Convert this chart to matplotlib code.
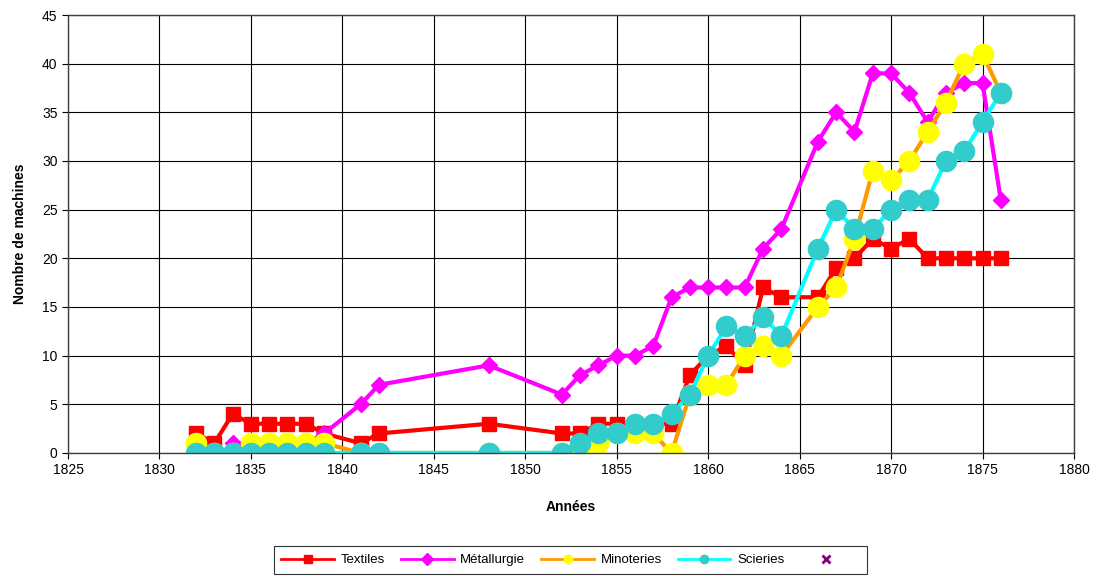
import numpy as np
import matplotlib
matplotlib.use("Agg")
from matplotlib import pyplot as plt

plt.rcParams['font.family'] = ['Liberation Sans', 'DejaVu Sans']

nan = np.nan
years = [1832, 1833, 1834, 1835, 1836, 1837, 1838, 1839, 1841, 1842, 1848,
         1852, 1853, 1854, 1855, 1856, 1857, 1858, 1859, 1860, 1861, 1862, 1863, 1864,
         1866, 1867, 1868, 1869, 1870, 1871, 1872, 1873, 1874, 1875, 1876]
textiles = [2, 1, 4, 3, 3, 3, 3, 2, 1, 2, 3,
            2, 2, 3, 3, 3, 3, 3, 8, 10, 11, 9, 17, 16,
            16, 19, 20, 22, 21, 22, 20, 20, 20, 20, 20]
metallurgie = [nan, nan, 1, 1, 1, 1, 1, 2, 5, 7, 9,
               6, 8, 9, 10, 10, 11, 16, 17, 17, 17, 17, 21, 23,
               32, 35, 33, 39, 39, 37, 34, 37, 38, 38, 26]
minoteries = [1, 0, 0, 1, 1, 1, 1, 1, 0, 0, 0,
              0, 0, 1, 2, 2, 2, 0, 6, 7, 7, 10, 11, 10,
              15, 17, 22, 29, 28, 30, 33, 36, 40, 41, 37]
scieries = [0, 0, 0, 0, 0, 0, 0, 0, 0, 0, 0,
            0, 1, 2, 2, 3, 3, 4, 6, 10, 13, 12, 14, 12,
            21, 25, 23, 23, 25, 26, 26, 30, 31, 34, 37]

series = [
    ("Textiles", textiles, dict(color="#FF0000", marker="s", ms=10.5, mfc="#FF0000", mec="#FF0000")),
    ("Métallurgie", metallurgie, dict(color="#FF00FF", marker="D", ms=8, mfc="#FF00FF", mec="#FF00FF")),
    ("Minoteries", minoteries, dict(color="#FF9900", marker="o", ms=14.5, mfc="#FFFF00", mec="#FFFF00")),
    ("Scieries", scieries, dict(color="#00FFFF", marker="o", ms=14.5, mfc="#33CCCC", mec="#33CCCC")),
]

fig = plt.figure(figsize=(10.97, 5.77), dpi=100)
ax = fig.add_axes([0.062, 0.215, 0.917, 0.759])

x = np.array(years, dtype=float)
handles = []
for name, vals, st in series:
    v = np.array(vals, dtype=float)
    m = ~np.isnan(v)
    h, = ax.plot(x[m], v[m], lw=3, label=name, **st)
    handles.append(h)

# empty series, only shows in legend
hx, = ax.plot([], [], ls="none", marker="x", color="#800080", ms=6, mew=2)
handles.append(hx)

ax.set_xlim(1825, 1880)
ax.set_ylim(0, 45)
ax.set_xticks(range(1825, 1881, 5))
ax.set_yticks(range(0, 46, 5))
ax.grid(True, color="black", lw=0.8)
ax.set_axisbelow(True)
ax.tick_params(labelsize=10, length=4, width=0.8, direction="out")
for s in ax.spines.values():
    s.set_color("#404040")
    s.set_linewidth(1)

ax.set_xlabel("Années", fontsize=10, fontweight="bold", labelpad=16)
ax.set_ylabel("Nombre de machines", fontsize=10, fontweight="bold", labelpad=11)

leg = fig.legend(handles, ["Textiles", "Métallurgie", "Minoteries", "Scieries", ""],
                 loc="center", bbox_to_anchor=(0.52, 0.029), ncol=5, fontsize=9.5,
                 frameon=True, fancybox=False, edgecolor="black", handlelength=4,
                 columnspacing=1.2, borderpad=0.6, handletextpad=0.5)
leg.get_frame().set_linewidth(0.8)
for lh in leg.legend_handles[:4]:
    lh.set_markersize(6)
    lh.set_linewidth(2)

fig.savefig("out.png", dpi=100)
